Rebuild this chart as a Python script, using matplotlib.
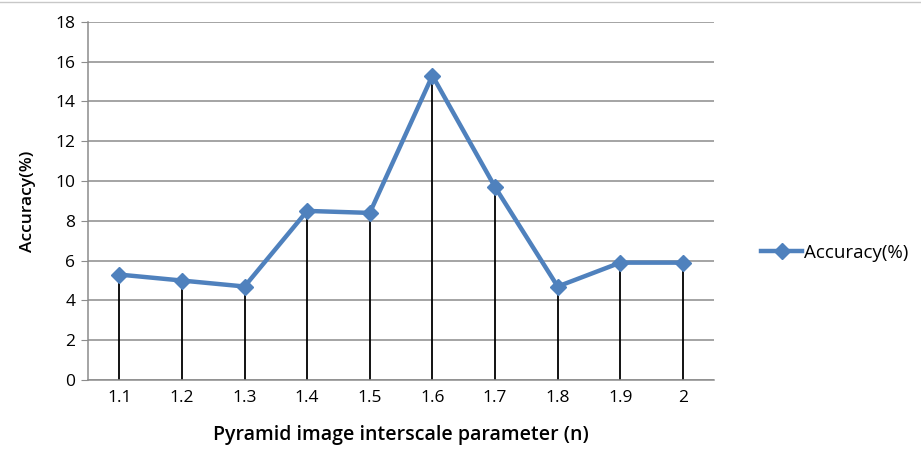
import numpy as np
import matplotlib.pyplot as plt
from matplotlib.lines import Line2D

# values
categories = ['1.1', '1.2', '1.3', '1.4', '1.5', '1.6', '1.7', '1.8', '1.9', '2']
accuracy = [5.3, 5.0, 4.7, 8.5, 8.4, 15.3, 9.7, 4.7, 5.9, 5.9]
yticks = [0, 2, 4, 6, 8, 10, 12, 14, 16, 18]

plt.rcParams['font.family'] = ['Open Sans', 'DejaVu Sans']

fig = plt.figure(figsize=(9.21, 4.51), dpi=100)
ax = fig.add_axes([0.0955, 0.1574, 0.680, 0.794])

x = np.arange(len(categories))
blue = '#4F81BD'

# drop lines
ax.vlines(x, 0, accuracy, color='black', lw=1.3, zorder=2)
ax.plot(x, accuracy, color=blue, lw=3.2, marker='D', ms=8,
        label='Accuracy(%)', zorder=3)

ax.set_xlim(-0.5, len(categories) - 0.5)
ax.set_ylim(0, 18)
ax.set_yticks(yticks)
ax.set_xticks(x)
ax.set_xticklabels(categories)
ax.grid(axis='y', color='#8c8c8c', lw=1.1)
ax.set_axisbelow(True)

for s in ['top', 'right']:
    ax.spines[s].set_visible(False)
for s in ['left', 'bottom']:
    ax.spines[s].set_color('#8c8c8c')
    ax.spines[s].set_linewidth(1.1)
ax.tick_params(axis='y', length=5, color='#8c8c8c', labelsize=12.5, pad=4)
ax.tick_params(axis='x', length=0, labelsize=12.5, pad=7)

ax.set_xlabel('Pyramid image interscale parameter (n)', fontsize=14,
              fontweight='semibold', labelpad=14)
ax.set_ylabel('Accuracy(%)', fontsize=12.5, fontweight='semibold', labelpad=14)

fig.legend(loc='center left', bbox_to_anchor=(0.808, 0.44), frameon=False,
           fontsize=13.5, handlelength=2.2, handletextpad=0.1)

fig.add_artist(Line2D([0, 1], [0.995, 0.995], color='#c8c8c8', lw=1))

fig.savefig('out.png', dpi=100)
